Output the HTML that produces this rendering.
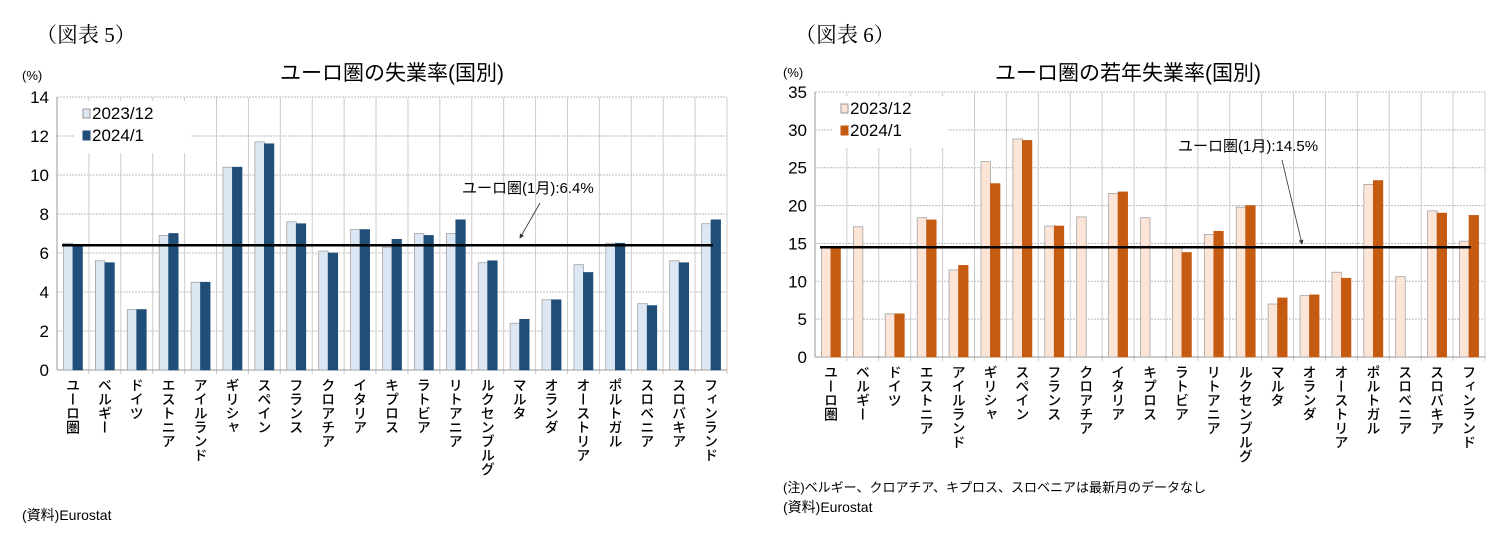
<!DOCTYPE html>
<html><head><meta charset="utf-8">
<style>
body{margin:0;background:#fff;width:1511px;height:544px;overflow:hidden;font-family:"Liberation Sans","Noto Sans CJK JP",sans-serif}
svg text{font-family:"Liberation Sans","Noto Sans CJK JP",sans-serif}
svg text.serif{font-family:"Liberation Serif","Noto Serif CJK SC",serif}
.vt{writing-mode:vertical-rl;text-orientation:upright;font-size:14px;font-weight:500}
</style></head><body>
<svg id="s" width="1511" height="544">
<defs><marker id="ah" markerWidth="6" markerHeight="6" refX="5" refY="3" orient="auto"><path d="M0,0 L6,3 L0,6 z" fill="#333"/></marker></defs>
<text class="serif" x="36" y="42" font-size="21">（図表 5）</text>
<text class="serif" x="795" y="42" font-size="21">（図表 6）</text>
<text x="392" y="80" font-size="21" text-anchor="middle">ユーロ圏の失業率(国別)</text>
<text x="1128" y="80" font-size="21" text-anchor="middle">ユーロ圏の若年失業率(国別)</text>
<text x="22" y="80" font-size="13">(%)</text>
<text x="783" y="77" font-size="13">(%)</text>
<text x="22" y="520" font-size="14">(資料)Eurostat</text>
<text x="783" y="492" font-size="13">(注)ベルギー、クロアチア、キプロス、スロベニアは最新月のデータなし</text>
<text x="783" y="512" font-size="14">(資料)Eurostat</text>
</svg>
<script>
const categories=["ユーロ圏","ベルギー","ドイツ","エストニア","アイルランド","ギリシャ","スペイン","フランス","クロアチア","イタリア","キプロス","ラトビア","リトアニア","ルクセンブルグ","マルタ","オランダ","オーストリア","ポルトガル","スロベニア","スロバキア","フィンランド"];
const c1Dec=[6.5,5.6,3.1,6.9,4.5,10.4,11.7,7.6,6.1,7.2,6.3,7.0,7.0,5.5,2.4,3.6,5.4,6.5,3.4,5.6,7.5];
const c1Jan=[6.4,5.5,3.1,7.0,4.5,10.4,11.6,7.5,6.0,7.2,6.7,6.9,7.7,5.6,2.6,3.6,5.0,6.5,3.3,5.5,7.7];
const c1Ticks=[0,2,4,6,8,10,12,14];
const c1Ref=6.4;
const c2Dec=[14.5,17.2,5.7,18.4,11.5,25.8,28.8,17.3,18.5,21.6,18.4,14.5,16.2,19.8,7.0,8.1,11.2,22.8,10.6,19.3,15.3];
const c2Jan=[14.5,null,5.7,18.1,12.1,22.9,28.6,17.3,null,21.8,null,13.8,16.6,20.0,7.8,8.2,10.4,23.3,null,19.0,18.7];
const c2Ticks=[0,5,10,15,20,25,30,35];
const c2Ref=14.5;
const NS="http://www.w3.org/2000/svg";
const svg=document.getElementById('s');
function mk(tag,at,txt){const e=document.createElementNS(NS,tag);for(const k in at)e.setAttribute(k,at[k]);if(txt!=null)e.textContent=txt;svg.appendChild(e);return e;}
function chart(o){
  const n=categories.length,cw=(o.r-o.l)/n;
  const y=v=>o.b-(v/o.max)*(o.b-o.t);
  o.ticks.forEach(t=>{
    if(t>0){const g=mk('line',{x1:o.l,x2:o.r,y1:y(t),y2:y(t),stroke:'#bbb','stroke-dasharray':'2,1'});
    }
    const tl=mk('text',{x:o.l-8,y:y(t)+6,'font-size':17,'text-anchor':'end'},t);
    
  });
  for(let i=0;i<=n;i++){const g=mk('line',{x1:o.l+i*cw,x2:o.l+i*cw,y1:o.t,y2:o.b+(i==0?0:4),stroke:i==0?'#999':'#ccc'});
    }
  const ax=mk('line',{x1:o.l,x2:o.r,y1:o.b,y2:o.b,stroke:'#999'});
  
  categories.forEach((c,i)=>{
    const cx=o.l+i*cw+cw/2;
    [[o.d1,o.c1,-9.5],[o.d2,o.c2,0]].forEach(([arr,col,dx],k)=>{
      if(arr[i]==null)return;
      const r=mk('rect',{x:cx+dx,y:y(arr[i]),width:9.5,height:o.b-y(arr[i]),fill:col,stroke:k==0?'#999':col,'stroke-width':0.7});
      
    });
    const t=mk('text',{x:cx,y:o.b+8,class:'vt'},c);
    
  });
  const rl=mk('line',{x1:o.l+5,x2:o.r-14,y1:y(o.ref),y2:y(o.ref),stroke:'#000','stroke-width':2.5});
  
  const lb=mk('rect',{x:o.l+18,y:o.t+4,width:115,height:52,fill:'#fff'});
  
  [[o.c1,'2023/12','#999'],[o.c2,'2024/1',o.c2]].forEach(([col,l,st],k)=>{
    const yy=o.t+12+k*22;
    const sq=mk('rect',{x:o.l+26,y:yy,width:7,height:9,fill:col,stroke:st});
    
    const tx=mk('text',{x:o.l+35,y:yy+10,'font-size':17},l);
    
  });
  const an=mk('text',{x:o.ax,y:o.ay,'font-size':15},o.ann);
  
  const ar=mk('line',{x1:o.a1[0],y1:o.a1[1],x2:o.a2[0],y2:o.a2[1],stroke:'#333','stroke-width':0.8,'marker-end':'url(#ah)'});
  
}
chart({id:'chart1',l:57,r:727,t:97,b:370,max:14,ticks:c1Ticks,d1:c1Dec,d2:c1Jan,c1:'#dde7f3',c2:'#1f4e79',ref:c1Ref,ann:'ユーロ圏(1月):6.4%',ax:462,ay:193,a1:[540,203],a2:[520,238]});
chart({id:'chart2',l:815,r:1485,t:92,b:357,max:35,ticks:c2Ticks,d1:c2Dec,d2:c2Jan,c1:'#fce4d6',c2:'#c55a11',ref:c2Ref,ann:'ユーロ圏(1月):14.5%',ax:1178,ay:151,a1:[1282,160],a2:[1302,244]});
</script>
</body></html>
